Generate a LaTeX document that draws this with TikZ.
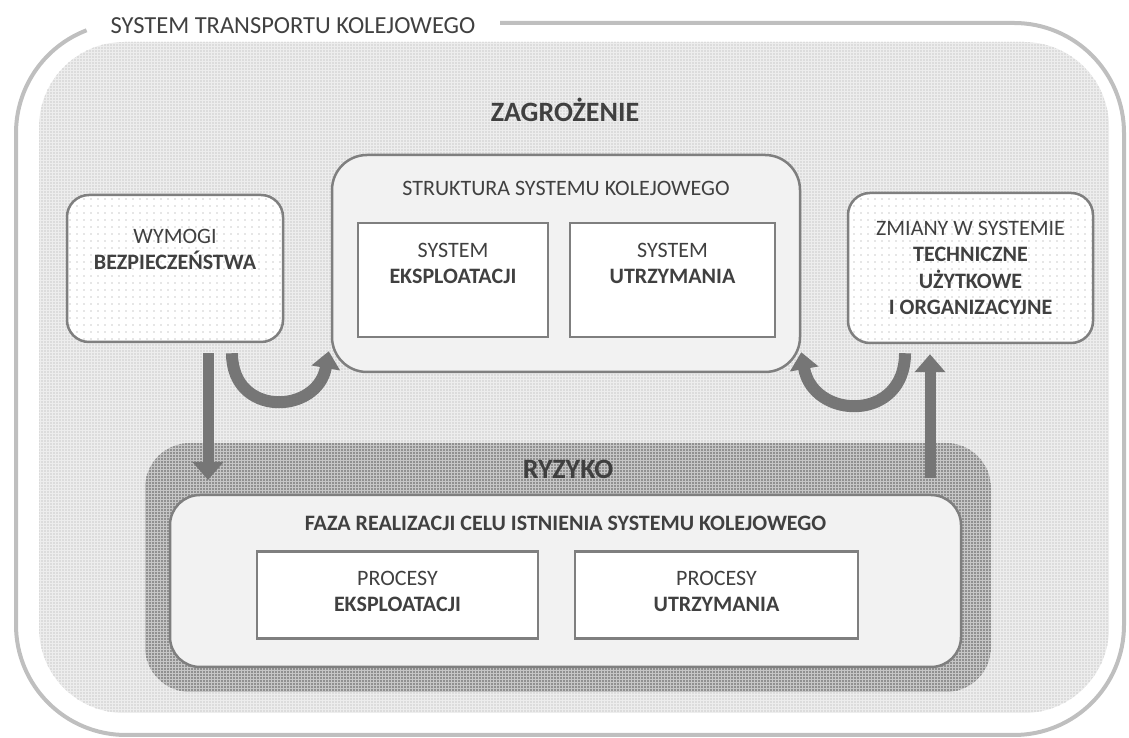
\documentclass[tikz,border=0pt]{standalone}
\usepackage{fontspec}
\setmainfont{Carlito}
\usetikzlibrary{arrows.meta,patterns.meta,positioning}

\definecolor{txtgray}{HTML}{404040}
\definecolor{rimgray}{HTML}{BFBFBF}
\definecolor{edgegray}{HTML}{7F7F7F}
\definecolor{arrgray}{HTML}{767676}

\begin{document}
\begin{tikzpicture}[x=1pt,y=1pt,>={Triangle[width=30pt,length=18pt]}]
	\tikzstyle{every node}=[text=txtgray,font=\fontsize{22}{26}\selectfont]
	\tikzstyle{panel}=[draw=edgegray,line width=2.5pt,fill=gray!10]
	\tikzstyle{cell}=[draw=edgegray,line width=2.5pt,fill=white]
	\tikzstyle{dotbox}=[draw=edgegray,line width=2.5pt,rounded corners=22pt,preaction={fill=white},
		pattern={Dots[distance=7pt,radius=0.7pt]},pattern color=gray!85]
	\tikzstyle{heading}=[font=\fontsize{28}{30}\selectfont\bfseries]
	\tikzstyle{bigarrow}=[->,draw=arrgray,line width=11pt]
	\tikzstyle{bendarrow}=[-{Triangle[width=28pt,length=17pt]},draw=arrgray,line width=12pt]

	\useasboundingbox (0,0) rectangle (1129,738);

	% frame of the whole system
	\draw[draw=rimgray,line width=4pt] (500,715) -- (1014,715) arc[start angle=90,end angle=0,radius=110]
		-- (1124,113) arc[start angle=0,end angle=-90,radius=110]
		-- (126,3) arc[start angle=270,end angle=180,radius=110]
		-- (16,605) arc[start angle=180,end angle=111,radius=110];
	\node[font=\fontsize{24.5}{28}\selectfont] (STK) at (293,712) {SYSTEM TRANSPORTU KOLEJOWEGO};

	\node[minimum width=1070pt,minimum height=671pt,rounded corners=85pt,preaction={fill=gray!14},
		pattern={Dots[distance=3pt,radius=0.7pt]},pattern color=gray!70] (ZN) at (574,360.5) {};
	\node[heading] (ZG) at (565,628) {ZAGROŻENIE};

	% risk area
	\node[minimum width=846pt,minimum height=249pt,rounded corners=45pt,preaction={fill=gray!45},
		pattern={Dots[distance=3pt,radius=0.9pt]},pattern color=black!65] (RZ) at (568,170.5) {};
	\node[heading,below=14pt of RZ.north] (RZt) {RYZYKO};

	% requirements and changes
	\node[dotbox,minimum width=216pt,minimum height=147pt] (WB) at (175,469.5) {};
	\node[below=32pt of WB.north,align=center] (WBt) {WYMOGI\\\textbf{BEZPIECZEŃSTWA}};
	\node[dotbox,minimum width=245pt,minimum height=150pt,align=center,font=\fontsize{22}{26.5}\selectfont] (ZS) at (970.5,470)
		{ZMIANY W SYSTEMIE\\\textbf{TECHNICZNE}\\\textbf{UŻYTKOWE}\\\textbf{I ORGANIZACYJNE}};

	% structure
	\node[panel,rounded corners=35pt,minimum width=468pt,minimum height=217pt] (SSK) at (566,474.5) {};
	\node[below=24pt of SSK.north] (SSKt) {STRUKTURA SYSTEMU KOLEJOWEGO};
	\node[cell,minimum width=190pt,minimum height=114pt] (SE) at (453,458) {};
	\node[below=18pt of SE.north,align=center] (SEt) {SYSTEM\\\textbf{EKSPLOATACJI}};
	\node[cell,minimum width=205pt,minimum height=114pt] (SU) at (672.5,458) {};
	\node[below=18pt of SU.north,align=center] (SUt) {SYSTEM\\\textbf{UTRZYMANIA}};

	% realisation phase
	\node[panel,rounded corners=30pt,minimum width=791pt,minimum height=172pt] (FR) at (565.5,157) {};
	\node[below=19pt of FR.north,font=\fontsize{22}{26}\selectfont\bfseries] (FRt) {FAZA REALIZACJI CELU ISTNIENIA SYSTEMU KOLEJOWEGO};
	\node[cell,minimum width=281pt,minimum height=87pt] (PE) at (397.5,143) {};
	\node[below=17pt of PE.north,align=center] (PEt) {PROCESY\\\textbf{EKSPLOATACJI}};
	\node[cell,minimum width=283pt,minimum height=87pt] (PU) at (716.5,143) {};
	\node[below=17pt of PU.north,align=center] (PUt) {PROCESY\\\textbf{UTRZYMANIA}};

	% arrows
	\coordinate (WBd) at (208,258);
	\coordinate (ZSu) at (930,260);
	\draw[bigarrow] ([xshift=33pt,yshift=-10pt]WB.south) -- (WBd);
	\draw[bigarrow] (ZSu) -- ([xshift=-40.5pt,yshift=-10pt]ZS.south);
	\draw[bendarrow] ([xshift=57pt,yshift=-10pt]WB.south) to[out=-90,in=-100,looseness=1.7] ([xshift=-2pt,yshift=22pt]SSK.south west);
	\draw[bendarrow] ([xshift=-65.5pt,yshift=-9pt]ZS.south) to[out=-90,in=-80,looseness=1.7] ([yshift=21pt]SSK.south east);
\end{tikzpicture}
\end{document}
